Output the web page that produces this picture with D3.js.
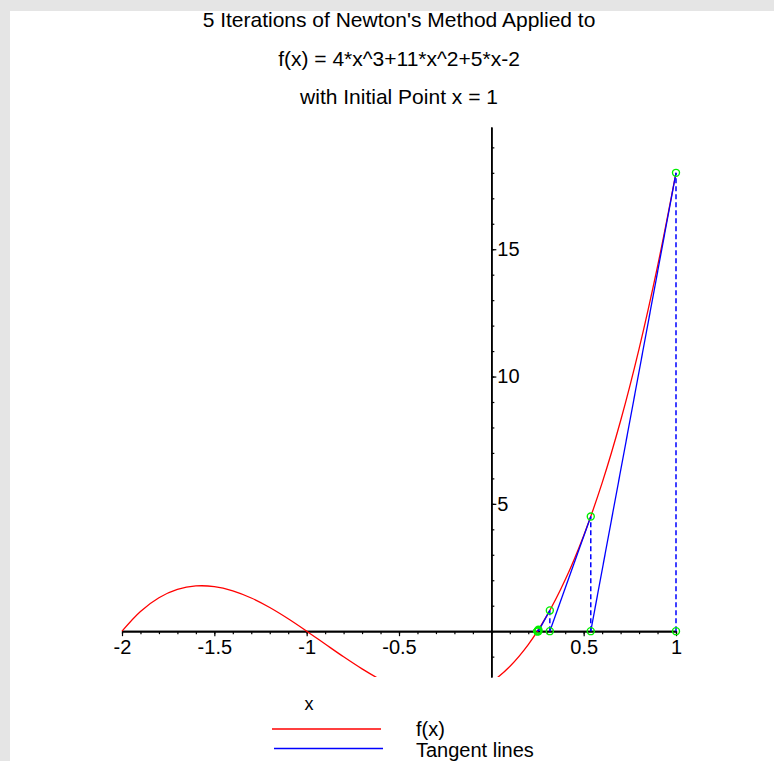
<!DOCTYPE html>
<html>
<head>
<meta charset="utf-8">
<script src="https://cdn.jsdelivr.net/npm/d3@7"></script>
<style>
  body { margin: 0; background: #e5e5e5; }
  text { font-family: "Liberation Sans", Arial, sans-serif; fill: #000; }
</style>
</head>
<body>
<div id="graf"></div>
<script>
// Datos
const titulo = [
  "5 Iterations of Newton's Method Applied to",
  "f(x) = 4*x^3+11*x^2+5*x-2",
  "with Initial Point x = 1"
]
const xCurva = [-2, -1.9, -1.8, -1.7, -1.6, -1.5, -1.4, -1.3, -1.2, -1.1, -1,
  -0.9, -0.8, -0.7, -0.6, -0.5, -0.4, -0.3, -0.2, -0.1, 0,
  0.1, 0.2, 0.3, 0.4, 0.5, 0.6, 0.7, 0.8, 0.9, 1]
const yCurva = [0, 0.774, 1.312, 1.638, 1.776, 1.75, 1.584, 1.302, 0.928, 0.486, 0,
  -0.506, -1.008, -1.482, -1.904, -2.25, -2.496, -2.618, -2.592, -2.394, -2,
  -1.386, -0.528, 0.598, 2.016, 3.75, 5.824, 8.262, 11.088, 14.326, 18]
const xIter = [1, 0.5385, 0.3168, 0.2549, 0.2500, 0.2500]
const yIter = [18, 4.506, 0.815, 0.0557, 0.0003, 0]
const xTicks = [-2, -1.5, -1, -0.5, 0.5, 1]
const yTicks = [5, 10, 15]
const leyenda = ["f(x)", "Tangent lines"]
const colores = ["#ff0000", "#0000ff"]

const draw = async (el = "#graf") => {
  const graf = d3.select(el)

  // Dimensiones
  const anchoTotal = 774
  const altoTotal = 761
  const margins = { top: 127, right: 98, bottom: 84, left: 122 }
  const ancho = anchoTotal - margins.left - margins.right
  const alto = altoTotal - margins.top - margins.bottom

  // Escaladores
  const x = d3.scaleLinear().domain([-2, 1]).range([0, ancho])
  const y = d3.scaleLinear().domain([-1.8, 19.8]).range([alto, 0])

  const svg = graf
    .append("svg")
    .attr("width", anchoTotal)
    .attr("height", altoTotal)
    .style("display", "block")

  // Fondo
  svg.append("rect").attr("width", anchoTotal).attr("height", altoTotal).attr("fill", "#e5e5e5")
  svg.append("rect").attr("x", 10).attr("y", 11)
    .attr("width", anchoTotal - 10).attr("height", altoTotal - 11).attr("fill", "#fff")

  // Títulos
  svg.append("g")
    .selectAll("text")
    .data(titulo)
    .join("text")
    .attr("x", 399)
    .attr("y", (d, i) => 27 + i * 38.5)
    .attr("text-anchor", "middle")
    .style("font-size", "21px")
    .text((d) => d)

  // Recorte (un poco más ancho para no cortar los trazos del borde)
  svg.append("clipPath")
    .attr("id", "clip")
    .append("rect")
    .attr("x", -4)
    .attr("width", ancho + 8)
    .attr("height", alto)

  const chart = svg.append("g")
    .attr("transform", `translate(${margins.left}, ${margins.top})`)

  // Ejes
  const x0 = x(0)
  const y0 = y(0)

  const xMinor = d3.axisBottom(x).ticks(30).tickSize(3).tickSizeOuter(0).tickFormat("")
  const xMajor = d3.axisBottom(x).tickValues(xTicks).tickSize(5).tickSizeOuter(0)
    .tickFormat((d) => String(d))
  const yMinor = d3.axisRight(y).ticks(20).tickSize(3).tickSizeOuter(0).tickFormat("")
  const yMajor = d3.axisRight(y).tickValues(yTicks).tickSize(5).tickSizeOuter(0)
    .tickFormat((d) => String(d))

  const ejes = [
    chart.append("g").attr("transform", `translate(0, ${y0})`).call(xMinor),
    chart.append("g").attr("transform", `translate(0, ${y0})`).call(xMajor),
    chart.append("g").attr("transform", `translate(${x0}, 0)`).call(yMinor),
    chart.append("g").attr("transform", `translate(${x0}, 0)`).call(yMajor)
  ]
  ejes.forEach((g) => {
    g.select(".domain").attr("stroke", "#000").attr("stroke-width", 1.6)
    g.selectAll(".tick line").attr("stroke", "#000").attr("stroke-width", 1.2)
    g.selectAll(".tick text")
      .style("font-size", "20px")
      .style("font-family", "'Liberation Sans', Arial, sans-serif")
      .attr("fill", "#000")
  })
  ejes[1].selectAll(".tick text").attr("y", 9)
  ejes[3].selectAll(".tick text").attr("x", 6)

  // Etiqueta del eje x
  svg.append("text")
    .attr("x", 309)
    .attr("y", 710)
    .attr("text-anchor", "middle")
    .style("font-size", "18px")
    .text("x")

  // Curva f(x)
  const puntos = xCurva.map((d, i) => ({ x: d, y: yCurva[i] }))
  const linea = d3.line()
    .x((d) => x(d.x))
    .y((d) => y(d.y))
    .curve(d3.curveCatmullRom)

  const capa = chart.append("g").attr("clip-path", "url(#clip)")

  capa.append("path")
    .datum(puntos)
    .attr("fill", "none")
    .attr("stroke", colores[0])
    .attr("stroke-width", 1.3)
    .attr("d", linea)

  // Iteraciones: líneas verticales punteadas y tangentes
  const iter = xIter.map((d, i) => ({ x: d, y: yIter[i] }))
  const pasos = iter.slice(0, -1).map((d, i) => ({ desde: d, hasta: iter[i + 1] }))

  capa.selectAll("line.vertical")
    .data(iter.slice(0, -1))
    .join("line")
    .classed("vertical", true)
    .attr("x1", (d) => x(d.x))
    .attr("x2", (d) => x(d.x))
    .attr("y1", y(0))
    .attr("y2", (d) => y(d.y))
    .attr("stroke", colores[1])
    .attr("stroke-width", 1.5)
    .attr("stroke-dasharray", "5,3")

  capa.selectAll("line.tangente")
    .data(pasos)
    .join("line")
    .classed("tangente", true)
    .attr("x1", (d) => x(d.desde.x))
    .attr("y1", (d) => y(d.desde.y))
    .attr("x2", (d) => x(d.hasta.x))
    .attr("y2", y(0))
    .attr("stroke", colores[1])
    .attr("stroke-width", 1.3)

  // Puntos verdes
  const marcas = iter.flatMap((d) => [{ x: d.x, y: d.y }, { x: d.x, y: 0 }])
  chart.selectAll("circle")
    .data(marcas)
    .join("circle")
    .attr("cx", (d) => x(d.x))
    .attr("cy", (d) => y(d.y))
    .attr("r", 3.5)
    .attr("fill", "none")
    .attr("stroke", "#00ee00")
    .attr("stroke-width", 1.4)

  // Leyenda
  const ley = svg.append("g")
  ley.selectAll("line")
    .data(leyenda)
    .join("line")
    .attr("x1", (d, i) => 272 + i * 2)
    .attr("x2", (d, i) => 381 + i * 2)
    .attr("y1", (d, i) => 729 + i * 19.5)
    .attr("y2", (d, i) => 729 + i * 19.5)
    .attr("stroke", (d, i) => colores[i])
    .attr("stroke-width", 1.5)
  ley.selectAll("text")
    .data(leyenda)
    .join("text")
    .attr("x", 416)
    .attr("y", (d, i) => 736 + i * 21)
    .style("font-size", "20px")
    .text((d) => d)
}

draw()
</script>
</body>
</html>
